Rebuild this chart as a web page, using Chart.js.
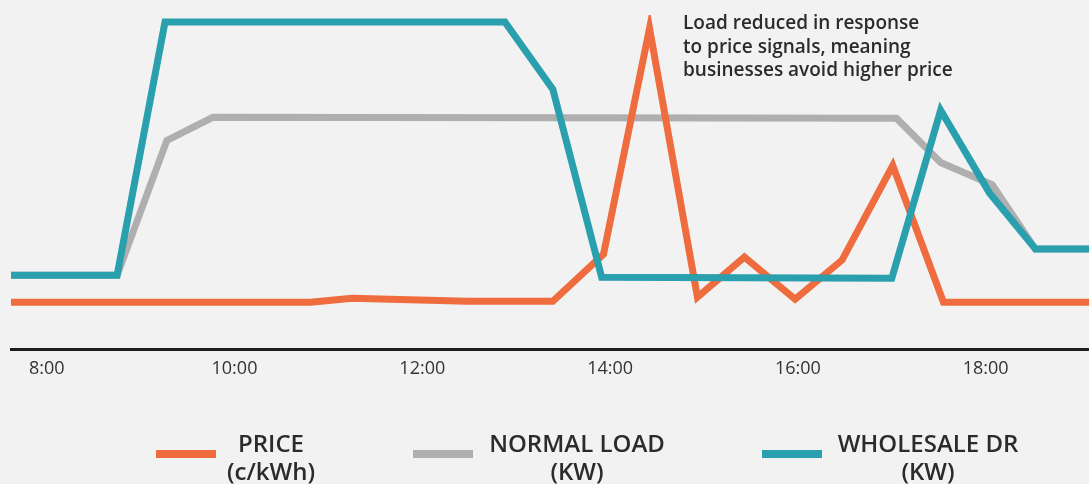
<!DOCTYPE html>
<html>
<head>
<meta charset="utf-8">
<script src="https://cdn.jsdelivr.net/npm/chart.js@4"></script>
<style>
    html, body { margin: 0; padding: 0; background: #f2f2f2; }
    #wrap { width: 1089px; height: 484px; position: relative; }
</style>
</head>
<body>
<div id="wrap"><canvas id="lineChart"></canvas></div>
<script>
// x axis ticks (hours of the day)
const tickHours = [8, 10, 12, 14, 16, 18];
const tickLabels = ['8:00', '10:00', '12:00', '14:00', '16:00', '18:00'];

// series (hour, value)
const priceHours = [7.62, 10.81, 11.25, 12.48, 13.39, 13.93, 14.42, 14.93, 15.43, 15.97, 16.47, 17.01, 17.55, 19.1];
const priceValues = [14.1, 14.1, 15.3, 14.4, 14.4, 28.5, 96, 15.6, 27.6, 15.0, 26.7, 55.0, 14.1, 14.1];

const normalHours = [7.62, 8.75, 9.28, 9.77, 17.05, 17.52, 18.07, 18.53, 19.1];
const normalValues = [22.2, 22.2, 62.5, 69.4, 69.1, 55.9, 49.2, 30.0, 30.0];

const drHours = [7.62, 8.75, 9.26, 12.88, 13.39, 13.91, 17.0, 17.52, 18.04, 18.53, 19.1];
const drValues = [22.2, 22.2, 97.9, 97.9, 77.8, 21.6, 21.3, 71.5, 46.8, 30.0, 30.0];

const seriesNames = [['PRICE', '(c/kWh)'], ['NORMAL LOAD', '(KW)'], ['WHOLESALE DR', '(KW)']];
const seriesColors = ['#ef6c3e', '#afafaf', '#2a9fad'];

const noteLines = ['Load reduced in response', 'to price signals, meaning', 'businesses avoid higher price'];

function toPoints(xs, ys) {
    return xs.map((x, i) => ({ x: x, y: ys[i] }));
}

// legend + note drawn on the canvas, two-line labels
const extras = {
    id: 'extras',
    afterDraw(chart) {
        const ctx = chart.ctx;
        ctx.save();
        ctx.fillStyle = '#2b2b2b';
        ctx.font = '600 19px "Open Sans"';
        ctx.textAlign = 'left';
        ctx.textBaseline = 'alphabetic';
        noteLines.forEach((t, i) => ctx.fillText(t, 683, 29 + i * 23.5));

        const sampleX = [156, 413, 762];
        const textX = [271, 577, 928];
        chart.data.datasets.forEach((ds, i) => {
            ctx.fillStyle = ds.borderColor;
            ctx.fillRect(sampleX[i], 450, 60, 8);
            ctx.fillStyle = '#2b2b2b';
            ctx.font = '600 24px "Open Sans"';
            ctx.textAlign = 'center';
            seriesNames[i].forEach((t, j) => ctx.fillText(t, textX[i], 452 + j * 28));
        });
        ctx.restore();
    }
};

const ctx = document.getElementById('lineChart').getContext('2d');
const lineOpts = { borderWidth: 7, pointRadius: 0, fill: false, tension: 0, borderCapStyle: 'round', borderJoinStyle: 'miter', clip: 0 };
let chart = new Chart(ctx, {
    type: 'line',
    data: {
        datasets: [
            Object.assign({ label: 'PRICE', data: toPoints(priceHours, priceValues), borderColor: seriesColors[0], order: 1 }, lineOpts),
            Object.assign({ label: 'NORMAL LOAD', data: toPoints(normalHours, normalValues), borderColor: seriesColors[1], order: 2 }, lineOpts),
            Object.assign({ label: 'WHOLESALE DR', data: toPoints(drHours, drValues), borderColor: seriesColors[2], order: 0 }, lineOpts)
        ]
    },
    options: {
        responsive: true,
        maintainAspectRatio: false,
        animation: false,
        layout: { padding: { left: 11, right: 0, top: 15, bottom: 95 } },
        plugins: { legend: { display: false }, tooltip: { enabled: false } },
        scales: {
            x: {
                type: 'linear',
                min: 7.62,
                max: 19.1,
                afterBuildTicks: function (scale) {
                    scale.ticks = tickHours.map(v => ({ value: v }));
                },
                grid: { display: false, drawTicks: false },
                border: { display: true, color: '#1e1e1e', width: 3 },
                ticks: {
                    autoSkip: false,
                    maxRotation: 0,
                    padding: 9,
                    color: '#333',
                    font: { family: 'Open Sans', size: 18 },
                    callback: function (v, i) { return tickLabels[i]; }
                }
            },
            y: {
                display: false,
                min: 0,
                max: 100
            }
        }
    },
    plugins: [extras]
});
</script>
</body>
</html>
